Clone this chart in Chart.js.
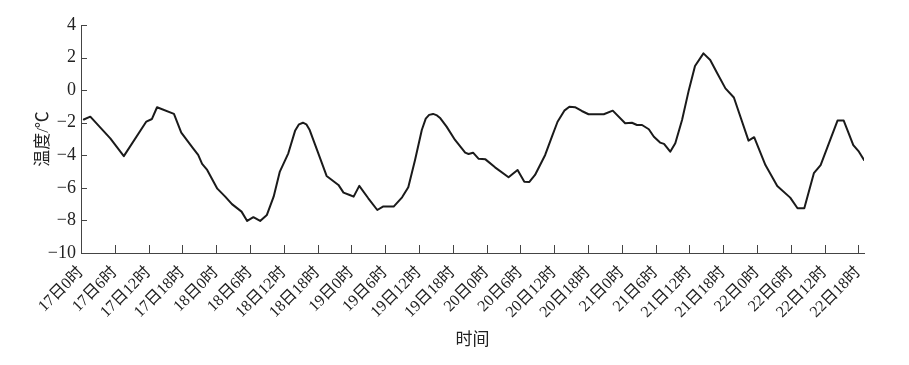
<!DOCTYPE html>
<html>
<head>
<meta charset="utf-8">
<script src="https://cdn.jsdelivr.net/npm/chart.js@4"></script>
<style>
  html, body { margin: 0; padding: 0; background: #fff; }
  #wrap { width: 909px; height: 365px; }
</style>
</head>
<body>
<div id="wrap"><canvas id="c" width="909" height="365"></canvas></div>
<script>
// Hours since 17日0时 at which the curve was read
const hours = [0.5, 1.65, 5.2, 7.6, 11.6, 12.6, 13.5, 16.5, 17.8, 19.9, 20.8, 21.5, 22.4, 24.2, 25.6, 26.8, 28.5, 29.5, 30.6, 31.8,
  33, 34.2, 35.3, 36.8, 38.0, 38.7, 39.4, 40.0, 40.6, 41.9, 43.6, 45.7, 46.6, 47.7, 48.4, 49.4, 51, 52.6, 53.6, 55.5, 57, 58.1,
  59.3, 60.5, 61.2, 61.8, 62.5, 63.2, 63.8, 64.9, 66.4, 68.2, 68.8, 69.6, 70.6, 71.8, 73.5, 75.9, 77.5, 78.7, 79.6, 80.6, 82.4, 83.6,
  84.6, 85.8, 86.7, 87.7, 88.9, 90.1, 92.8, 94.4, 96.6, 97.8, 98.7, 99.6, 100.8, 101.7, 102.8, 103.5, 104.6, 105.5, 106.7, 107.9,
  109, 110.5, 111.7, 112.9, 114.4, 115.9, 118.5, 119.5, 121.5, 123.6, 125.9, 127.2, 128.4, 130.1, 131.3, 133, 134.3, 135.4, 137.1, 138.1,
  139];
// Temperature (°C)
const temps = [-1.8, -1.63, -2.96, -4.05, -1.93, -1.77, -1.05, -1.46, -2.61, -3.57, -3.98, -4.53, -4.9, -6.05, -6.54, -7.0, -7.46, -8.03, -7.8, -8.03,
  -7.66, -6.54, -5.0, -3.88, -2.5, -2.1, -2.0, -2.1, -2.45, -3.67, -5.27, -5.82, -6.29, -6.44, -6.54, -5.88, -6.64, -7.36, -7.15, -7.15, -6.58, -5.96,
  -4.29, -2.45, -1.75, -1.52, -1.46, -1.55, -1.73, -2.24, -3.06, -3.84, -3.92, -3.84, -4.22, -4.25, -4.74, -5.35, -4.9, -5.62, -5.64, -5.21, -3.98, -2.86,
  -1.94, -1.26, -1.02, -1.05, -1.28, -1.48, -1.48, -1.26, -2.03, -2.0, -2.14, -2.14, -2.4, -2.86, -3.22, -3.3, -3.78, -3.26, -1.83, 0.0,
  1.48, 2.26, 1.85, 1.07, 0.11, -0.45, -3.1, -2.89, -4.6, -5.88, -6.6, -7.25, -7.25, -5.1, -4.6, -3.06, -1.87, -1.87, -3.37, -3.78,
  -4.29];

// X-axis ticks (hours) and their labels
const xTickHours = [0, 6, 12, 18, 24, 30, 36, 42, 48, 54, 60, 66, 72, 78, 84, 90, 96, 102, 108, 114, 120, 126, 132, 138];
const xTickLabels = ['17日0时', '17日6时', '17日12时', '17日18时', '18日0时', '18日6时', '18日12时', '18日18时',
  '19日0时', '19日6时', '19日12时', '19日18时', '20日0时', '20日6时', '20日12时', '20日18时',
  '21日0时', '21日6时', '21日12时', '21日18时', '22日0时', '22日6时', '22日12时', '22日18时'];
// Y-axis ticks
const yTicks = [4, 2, 0, -2, -4, -6, -8, -10];
const yTickLabels = ['4', '2', '0', '−2', '−4', '−6', '−8', '−10'];

const xTitle = '时间';
const yTitle = '温度/℃';

const FONT = "'Liberation Serif', 'Noto Sans CJK SC', serif";
const AXIS_COLOR = '#444';
const TEXT_COLOR = '#222';

const inwardTicks = {
  id: 'inwardTicks',
  afterDraw(chart) {
    const ctx = chart.ctx;
    const xs = chart.scales.x, ys = chart.scales.y;
    const area = chart.chartArea;
    ctx.save();
    ctx.strokeStyle = AXIS_COLOR;
    ctx.lineWidth = 1;
    ctx.beginPath();
    xTickHours.forEach(h => {
      const px = Math.round(xs.getPixelForValue(h)) + 0.5;
      ctx.moveTo(px, area.bottom);
      ctx.lineTo(px, area.bottom - 8);
    });
    yTicks.forEach(v => {
      const py = Math.round(ys.getPixelForValue(v)) + 0.5;
      ctx.moveTo(area.left, py);
      ctx.lineTo(area.left + 6, py);
    });
    ctx.stroke();
    ctx.restore();
  }
};

new Chart(document.getElementById('c'), {
  type: 'line',
  data: {
    datasets: [{
      data: hours.map((h, i) => ({ x: h, y: temps[i] })),
      borderColor: '#1a1a1a',
      borderWidth: 2,
      borderJoinStyle: 'round',
      borderCapStyle: 'round',
      pointRadius: 0,
      fill: false,
      tension: 0
    }]
  },
  options: {
    responsive: false,
    animation: false,
    devicePixelRatio: 1,
    layout: { padding: { left: 0, right: 45, top: 25, bottom: 0 } },
    plugins: { legend: { display: false }, tooltip: { enabled: false } },
    scales: {
      x: {
        type: 'linear',
        min: 0,
        max: 139,
        afterBuildTicks(scale) { scale.ticks = xTickHours.map(v => ({ value: v })); },
        afterFit(scale) { scale.height = 112; },
        grid: { display: true, drawOnChartArea: false, drawTicks: false },
        border: { display: true, color: AXIS_COLOR, width: 1 },
        ticks: {
          autoSkip: false,
          minRotation: 45,
          maxRotation: 45,
          padding: 10,
          color: TEXT_COLOR,
          font: { family: FONT, size: 16 },
          callback: (v) => { const i = xTickHours.indexOf(v); return i >= 0 ? xTickLabels[i] : ''; }
        },
        title: {
          display: true,
          text: xTitle,
          color: TEXT_COLOR,
          font: { family: FONT, size: 17 },
          padding: { top: 0, bottom: 14 }
        }
      },
      y: {
        type: 'linear',
        min: -10,
        max: 4,
        afterBuildTicks(scale) { scale.ticks = yTicks.map(v => ({ value: v })); },
        afterFit(scale) { scale.width = 81; },
        grid: { display: true, drawOnChartArea: false, drawTicks: false },
        border: { display: true, color: AXIS_COLOR, width: 1 },
        ticks: {
          padding: 5,
          color: TEXT_COLOR,
          font: { family: FONT, size: 18 },
          callback: (v) => { const i = yTicks.indexOf(v); return i >= 0 ? yTickLabels[i] : ''; }
        },
        title: {
          display: true,
          text: yTitle,
          color: TEXT_COLOR,
          font: { family: FONT, size: 17 },
          padding: { top: 33, bottom: 0 }
        }
      }
    }
  },
  plugins: [inwardTicks]
});
</script>
</body>
</html>
